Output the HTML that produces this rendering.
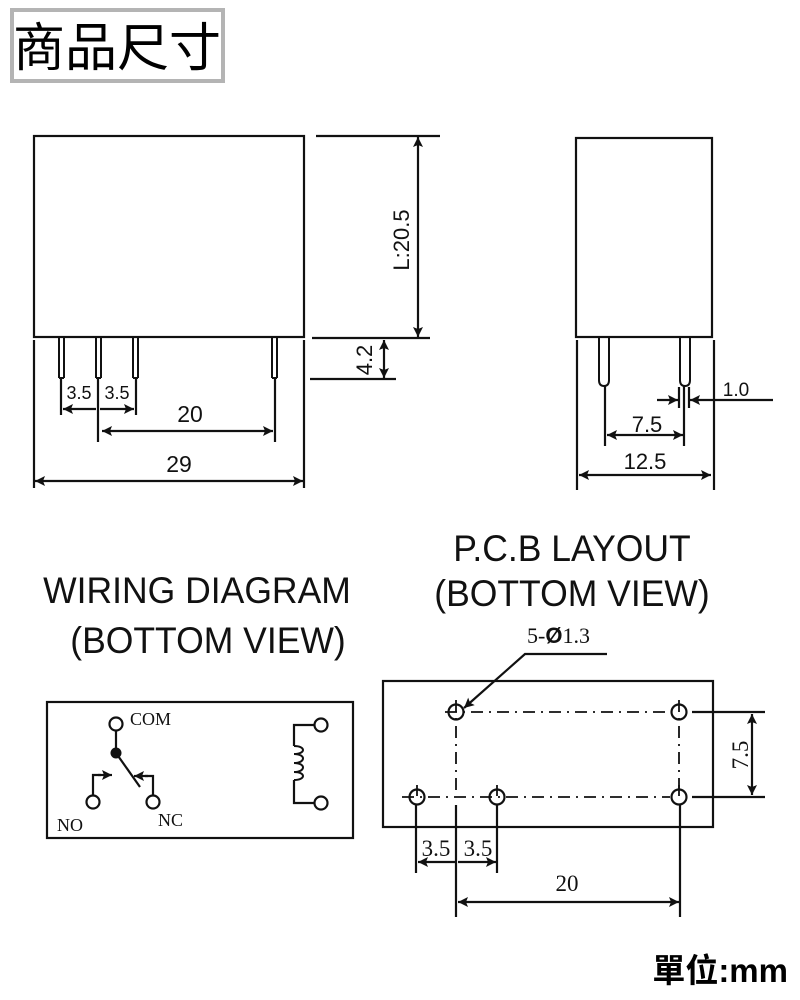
<!DOCTYPE html>
<html><head><meta charset="utf-8"><style>
html,body{margin:0;padding:0;background:#fff;width:800px;height:1000px;overflow:hidden}
svg{display:block}
.s{font-family:"Liberation Sans",Arial,sans-serif;fill:#111}
.r{font-family:"Liberation Serif",serif;fill:#111}
</style></head><body>
<svg width="800" height="1000" viewBox="0 0 800 1000" xmlns="http://www.w3.org/2000/svg">
<defs>
<marker id="a" viewBox="0 0 10 10" refX="10" refY="5" markerWidth="14" markerHeight="10" markerUnits="userSpaceOnUse" orient="auto-start-reverse"><path d="M0,0 L10,5 L0,10 L2,5 Z" fill="#111"/></marker>
</defs>
<!-- title -->
<rect x="12" y="10" width="211" height="71" fill="#fff" stroke="#b4b4b4" stroke-width="4"/>
<text x="117" y="66" text-anchor="middle" font-size="52" font-family="'Noto Sans CJK TC','WenQuanYi Zen Hei',sans-serif" fill="#000">商品尺寸</text>

<g stroke="#111" stroke-width="2.2" fill="none">
<!-- front view -->
<rect x="34" y="136" width="270" height="201"/>
<g stroke-width="2">
<path d="M59,337V378 M64,337V378 M96,337V378 M101,337V378 M133,337V378 M138,337V378 M272,337V378 M277,337V378"/>
<path d="M59,378H64 M96,378H101 M133,378H138 M272,378H277"/>
</g>
<path d="M61,377V415 M98,377V442 M136,377V415 M275,377V442 M34,340V488 M304,340V488"/>
<path d="M63,409H96 M100,409H134" marker-start="url(#a)" marker-end="url(#a)"/>
<path d="M102,431H273" marker-start="url(#a)" marker-end="url(#a)"/>
<path d="M35,481H303" marker-start="url(#a)" marker-end="url(#a)"/>
<path d="M316,136H440 M312,338H430 M310,379H396"/>
<path d="M418,137V337" marker-start="url(#a)" marker-end="url(#a)"/>
<path d="M384,340V378" marker-start="url(#a)" marker-end="url(#a)"/>

<!-- side view -->
<rect x="576" y="138" width="136" height="199"/>
<path d="M599,337V380 Q599,386 604,386 Q609,386 609,380 V337 M680,337V380 Q680,386 685,386 Q690,386 690,380 V337" stroke-width="2"/>
<path d="M605,386V446 M684,386V446 M577,340V490 M714,340V490 M679,387V408 M689,387V408"/>
<path d="M607,435H683" marker-start="url(#a)" marker-end="url(#a)"/>
<path d="M579,475H711" marker-start="url(#a)" marker-end="url(#a)"/>
<path d="M657,400H678" marker-end="url(#a)"/>
<path d="M773,400H690" marker-end="url(#a)"/>

<!-- wiring -->
<rect x="47" y="702" width="306" height="136"/>
<circle cx="116" cy="724" r="6.5"/>
<circle cx="93" cy="802" r="6.5"/>
<circle cx="153" cy="802" r="6.5"/>
<circle cx="321" cy="725" r="6.5"/>
<circle cx="321" cy="803" r="6.5"/>
<path d="M116,730V753 M116,753L140,787"/>
<path d="M93,795V775H101"/>
<path d="M98,775H112" marker-end="url(#a)"/>
<path d="M153,795V776H145"/>
<path d="M148,776H134" marker-end="url(#a)"/>
<path d="M314,725H294V746 M294,780V803H314"/>
<path d="M294,746 c12,0 12,8 0,8 c12,0 12,9 0,9 c12,0 12,9 0,9 c12,0 12,8 0,8" stroke-width="2"/>

<!-- pcb -->
<rect x="383" y="681" width="330" height="146"/>
<circle cx="456" cy="712" r="7.5"/>
<circle cx="679" cy="712" r="7.5"/>
<circle cx="417" cy="797" r="7.5"/>
<circle cx="497" cy="797" r="7.5"/>
<circle cx="679" cy="797" r="7.5"/>
<path d="M445,712H670 M456,700V790 M679,700V790 M402,797H670" stroke-width="1.8" stroke-dasharray="12,6,2,6"/>
<path d="M417,785V796 M497,785V796 M679,785V796" stroke-width="1.8"/>
<path d="M692,712H765 M692,797H765"/>
<path d="M752,714V795" marker-start="url(#a)" marker-end="url(#a)"/>
<path d="M416,805V873 M456,805V917 M497,805V873 M680,805V917"/>
<path d="M418,862H455 M458,862H496" marker-start="url(#a)" marker-end="url(#a)"/>
<path d="M458,902H679" marker-start="url(#a)" marker-end="url(#a)"/>
<path d="M607,654H525L464,708" marker-end="url(#a)"/>
</g>
<circle cx="116" cy="753" r="5.5" fill="#111"/>

<!-- labels -->
<g class="s">
<text x="79" y="399" text-anchor="middle" font-size="18">3.5</text>
<text x="117" y="399" text-anchor="middle" font-size="18">3.5</text>
<text x="190" y="422" text-anchor="middle" font-size="23">20</text>
<text x="179" y="472" text-anchor="middle" font-size="23">29</text>
<text transform="translate(409,240) rotate(-90)" text-anchor="middle" font-size="22">L:20.5</text>
<text transform="translate(372,360) rotate(-90)" text-anchor="middle" font-size="22">4.2</text>
<text x="647" y="432" text-anchor="middle" font-size="22">7.5</text>
<text x="645" y="469" text-anchor="middle" font-size="22">12.5</text>
<text x="736" y="396" text-anchor="middle" font-size="19">1.0</text>
<text x="572" y="561" text-anchor="middle" font-size="37" transform="translate(572,0) scale(0.96,1) translate(-572,0)">P.C.B LAYOUT</text>
<text x="572" y="606" text-anchor="middle" font-size="37" transform="translate(572,0) scale(0.96,1) translate(-572,0)">(BOTTOM VIEW)</text>
<text x="197" y="603" text-anchor="middle" font-size="37" transform="translate(197,0) scale(0.96,1) translate(-197,0)">WIRING DIAGRAM</text>
<text x="208" y="653" text-anchor="middle" font-size="37" transform="translate(208,0) scale(0.96,1) translate(-208,0)">(BOTTOM VIEW)</text>
</g>
<g class="r">
<text x="130" y="725" font-size="18">COM</text>
<text x="57" y="831" font-size="18">NO</text>
<text x="158" y="826" font-size="18">NC</text>
<text x="527" y="643" font-size="22">5-<tspan font-weight="bold" font-family="'Liberation Sans',sans-serif">Ø</tspan>1.3</text>
<text x="436" y="856" text-anchor="middle" font-size="23">3.5</text>
<text x="478" y="856" text-anchor="middle" font-size="23">3.5</text>
<text x="567" y="891" text-anchor="middle" font-size="23">20</text>
<text transform="translate(748,755) rotate(-90)" text-anchor="middle" font-size="23">7.5</text>
</g>
<text x="788" y="982" text-anchor="end" font-size="33" font-weight="bold" font-family="'Liberation Sans','Noto Sans CJK TC',sans-serif" fill="#000">單位:mm</text>
</svg>
</body></html>
